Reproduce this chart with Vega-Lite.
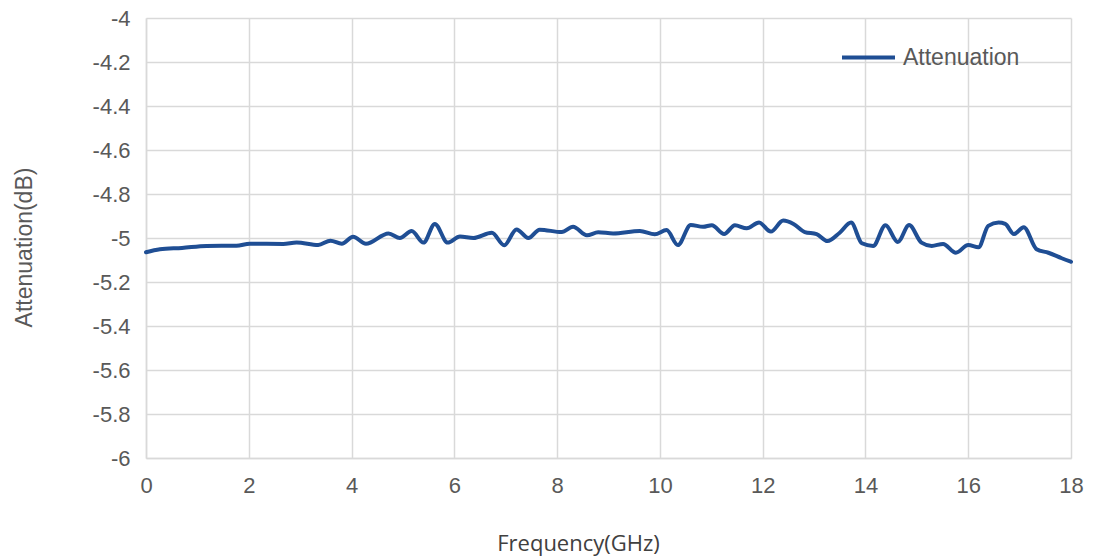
{
  "$schema": "https://vega.github.io/schema/vega-lite/v6.json",
  "width": 925,
  "height": 440,
  "autosize": {"type": "none"},
  "padding": {"left": 146, "top": 18, "right": 25, "bottom": 100},
  "background": "white",
  "config": {
    "view": {"stroke": null},
    "font": "Liberation Sans"
  },
  "data": {
    "values": [
      {"f": 0, "v": -5.065, "s": "Attenuation"},
      {"f": 0.27, "v": -5.051, "s": "Attenuation"},
      {"f": 0.7, "v": -5.045, "s": "Attenuation"},
      {"f": 1.18, "v": -5.036, "s": "Attenuation"},
      {"f": 1.76, "v": -5.035, "s": "Attenuation"},
      {"f": 2.02, "v": -5.026, "s": "Attenuation"},
      {"f": 2.67, "v": -5.027, "s": "Attenuation"},
      {"f": 2.93, "v": -5.02, "s": "Attenuation"},
      {"f": 3.35, "v": -5.032, "s": "Attenuation"},
      {"f": 3.59, "v": -5.012, "s": "Attenuation"},
      {"f": 3.81, "v": -5.026, "s": "Attenuation"},
      {"f": 4.03, "v": -4.994, "s": "Attenuation"},
      {"f": 4.28, "v": -5.026, "s": "Attenuation"},
      {"f": 4.72, "v": -4.979, "s": "Attenuation"},
      {"f": 4.94, "v": -5.0, "s": "Attenuation"},
      {"f": 5.17, "v": -4.968, "s": "Attenuation"},
      {"f": 5.4, "v": -5.021, "s": "Attenuation"},
      {"f": 5.62, "v": -4.936, "s": "Attenuation"},
      {"f": 5.87, "v": -5.021, "s": "Attenuation"},
      {"f": 6.11, "v": -4.993, "s": "Attenuation"},
      {"f": 6.37, "v": -5.0, "s": "Attenuation"},
      {"f": 6.73, "v": -4.976, "s": "Attenuation"},
      {"f": 6.97, "v": -5.033, "s": "Attenuation"},
      {"f": 7.21, "v": -4.961, "s": "Attenuation"},
      {"f": 7.44, "v": -5.0, "s": "Attenuation"},
      {"f": 7.66, "v": -4.962, "s": "Attenuation"},
      {"f": 8.09, "v": -4.973, "s": "Attenuation"},
      {"f": 8.31, "v": -4.949, "s": "Attenuation"},
      {"f": 8.58, "v": -4.988, "s": "Attenuation"},
      {"f": 8.8, "v": -4.974, "s": "Attenuation"},
      {"f": 9.09, "v": -4.979, "s": "Attenuation"},
      {"f": 9.61, "v": -4.968, "s": "Attenuation"},
      {"f": 9.9, "v": -4.983, "s": "Attenuation"},
      {"f": 10.13, "v": -4.964, "s": "Attenuation"},
      {"f": 10.35, "v": -5.032, "s": "Attenuation"},
      {"f": 10.6, "v": -4.941, "s": "Attenuation"},
      {"f": 10.84, "v": -4.949, "s": "Attenuation"},
      {"f": 11.01, "v": -4.942, "s": "Attenuation"},
      {"f": 11.25, "v": -4.982, "s": "Attenuation"},
      {"f": 11.46, "v": -4.942, "s": "Attenuation"},
      {"f": 11.69, "v": -4.956, "s": "Attenuation"},
      {"f": 11.93, "v": -4.93, "s": "Attenuation"},
      {"f": 12.16, "v": -4.971, "s": "Attenuation"},
      {"f": 12.4, "v": -4.921, "s": "Attenuation"},
      {"f": 12.6, "v": -4.936, "s": "Attenuation"},
      {"f": 12.82, "v": -4.973, "s": "Attenuation"},
      {"f": 13.05, "v": -4.982, "s": "Attenuation"},
      {"f": 13.26, "v": -5.014, "s": "Attenuation"},
      {"f": 13.5, "v": -4.976, "s": "Attenuation"},
      {"f": 13.72, "v": -4.93, "s": "Attenuation"},
      {"f": 13.93, "v": -5.024, "s": "Attenuation"},
      {"f": 14.15, "v": -5.036, "s": "Attenuation"},
      {"f": 14.39, "v": -4.942, "s": "Attenuation"},
      {"f": 14.63, "v": -5.018, "s": "Attenuation"},
      {"f": 14.85, "v": -4.941, "s": "Attenuation"},
      {"f": 15.09, "v": -5.021, "s": "Attenuation"},
      {"f": 15.29, "v": -5.036, "s": "Attenuation"},
      {"f": 15.51, "v": -5.027, "s": "Attenuation"},
      {"f": 15.76, "v": -5.067, "s": "Attenuation"},
      {"f": 16.0, "v": -5.032, "s": "Attenuation"},
      {"f": 16.2, "v": -5.042, "s": "Attenuation"},
      {"f": 16.39, "v": -4.945, "s": "Attenuation"},
      {"f": 16.59, "v": -4.93, "s": "Attenuation"},
      {"f": 16.72, "v": -4.936, "s": "Attenuation"},
      {"f": 16.89, "v": -4.982, "s": "Attenuation"},
      {"f": 17.08, "v": -4.951, "s": "Attenuation"},
      {"f": 17.33, "v": -5.051, "s": "Attenuation"},
      {"f": 17.56, "v": -5.067, "s": "Attenuation"},
      {"f": 17.82, "v": -5.092, "s": "Attenuation"},
      {"f": 18.0, "v": -5.108, "s": "Attenuation"}
    ]
  },
  "mark": {"type": "line", "interpolate": "monotone", "strokeWidth": 4, "strokeCap": "round", "strokeJoin": "round"},
  "encoding": {
    "x": {
      "field": "f",
      "type": "quantitative",
      "scale": {"domain": [0, 18], "nice": false, "zero": false},
      "axis": {
        "title": "Frequency(GHz)",
        "values": [0, 2, 4, 6, 8, 10, 12, 14, 16, 18],
        "grid": true,
        "gridColor": "#d9d9d9",
        "gridWidth": 1.5,
        "domainColor": "#d9d9d9",
        "domainWidth": 1.5,
        "ticks": false,
        "labelFlush": false,
        "labelFontSize": 22,
        "labelColor": "#595959",
        "labelPadding": 17,
        "labelFont": "Liberation Sans",
        "titleFont": "Open Sans",
        "titleFontSize": 22,
        "titleFontWeight": "normal",
        "titleColor": "#404040",
        "titleX": 432,
        "titleY": 85,
        "titleAlign": "center",
        "titleBaseline": "middle"
      }
    },
    "y": {
      "field": "v",
      "type": "quantitative",
      "scale": {"domain": [-6, -4], "nice": false, "zero": false},
      "axis": {
        "title": "Attenuation(dB)",
        "values": [-6, -5.8, -5.6, -5.4, -5.2, -5, -4.8, -4.6, -4.4, -4.2, -4],
        "labelExpr": "replace(format(datum.value, '~g'), '\u2212', '-')",
        "labelFlush": false,
        "grid": true,
        "gridColor": "#d9d9d9",
        "gridWidth": 1.5,
        "domainColor": "#d9d9d9",
        "domainWidth": 1.5,
        "ticks": false,
        "labelFontSize": 22,
        "labelColor": "#595959",
        "labelPadding": 16,
        "labelFont": "Liberation Sans",
        "titleFont": "Liberation Sans",
        "titleFontSize": 23,
        "titleFontWeight": "normal",
        "titleColor": "#595959",
        "titleAngle": -90,
        "titleX": -122,
        "titleY": 229,
        "titleAlign": "center",
        "titleBaseline": "middle"
      }
    },
    "color": {
      "field": "s",
      "type": "nominal",
      "scale": {"range": ["#1f4e94"]},
      "legend": {
        "title": null,
        "orient": "none",
        "legendX": 694,
        "legendY": 11,
        "symbolType": "stroke",
        "symbolSize": 2809,
        "symbolStrokeWidth": 4,
        "labelFontSize": 23,
        "labelColor": "#595959",
        "labelFont": "Liberation Sans",
        "labelOffset": 6,
        "padding": 0
      }
    }
  }
}
